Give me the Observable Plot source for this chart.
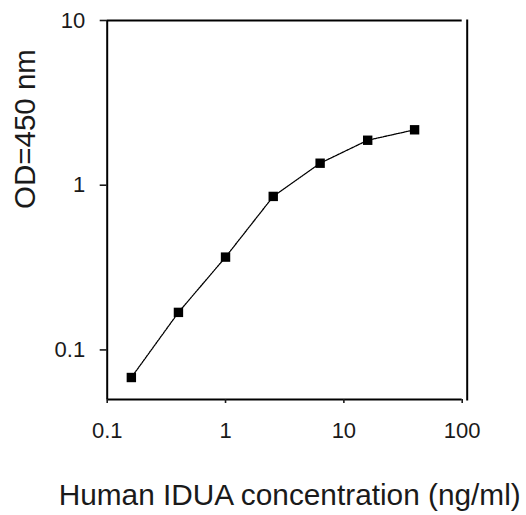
<!DOCTYPE html>
<html>
<head>
<meta charset="utf-8">
<script src="https://cdn.jsdelivr.net/npm/d3@7"></script>
<script src="https://cdn.jsdelivr.net/npm/@observablehq/plot@0.6"></script>
<style>
  html, body { margin: 0; padding: 0; background: #fff; }
  #chart { width: 526px; height: 515px; }
</style>
</head>
<body>
<div id="chart"></div>
<script>
// Data (x: concentration ng/ml, y: OD at 450 nm)
const concentration = [0.16, 0.40, 1.0, 2.53, 6.3, 15.9, 39.6];
const od450 = [0.068, 0.169, 0.366, 0.855, 1.36, 1.875, 2.17];

const xTicks = [0.1, 1, 10, 100];
const xTickLabels = ["0.1", "1", "10", "100"];
const yTicks = [0.1, 1, 10];
const yTickLabels = ["0.1", "1", "10"];
const xDomain = [0.1, 100];
const yDomain = [0.05, 10];
const xLabel = "Human IDUA concentration (ng/ml)";
const yLabel = "OD=450 nm";

const data = concentration.map((c, i) => ({x: c, y: od450[i]}));
const ink = "#1a1a1a";

const chart = Plot.plot({
  width: 526,
  height: 515,
  marginLeft: 106.7,
  marginRight: 59.3,
  marginTop: 20,
  marginBottom: 116,
  style: {fontFamily: "Arial, 'Liberation Sans', sans-serif", color: ink, background: "#fff"},
  x: {type: "log", domain: xDomain, range: [106.7, 461.7]},
  y: {type: "log", domain: yDomain},
  marks: [
    // frame-like lines
    Plot.ruleY([yDomain[0]], {x1: xDomain[0], x2: xDomain[1], stroke: "#000", strokeWidth: 2}),
    Plot.ruleY([yDomain[1]], {x1: xDomain[0], x2: xDomain[1], stroke: "#000", strokeWidth: 2}),
    Plot.ruleX([xDomain[0]], {y1: yDomain[0], y2: yDomain[1], stroke: "#000", strokeWidth: 2}),
    Plot.frame({anchor: "right", stroke: "#000", strokeWidth: 2}),
    Plot.axisX({
      ticks: xTicks,
      tickFormat: (d) => xTickLabels[xTicks.indexOf(d)],
      tickSize: 4,
      tickPadding: 19,
      fontSize: 22,
      strokeWidth: 1.6,
      label: null
    }),
    Plot.axisY({
      ticks: yTicks,
      tickFormat: (d) => yTickLabels[yTicks.indexOf(d)],
      tickSize: 7,
      tickPadding: 15,
      fontSize: 22,
      strokeWidth: 1.6,
      label: null
    }),
    Plot.line(data, {x: "x", y: "y", stroke: "#000", strokeWidth: 1.3, strokeDasharray: "1.6,1"}),
    Plot.dot(data, {x: "x", y: "y", symbol: "square", r: 5.3, fill: "#000", stroke: "none"}),
    Plot.text([xLabel], {text: d => d, frameAnchor: "bottom", lineAnchor: "bottom", dy: 105, dx: 2.5, fontSize: 29.8, fill: ink}),
    Plot.text([yLabel], {text: d => d, frameAnchor: "left", rotate: -90, dx: -81.5, dy: -1, fontSize: 29.5, fill: ink})
  ]
});
document.getElementById("chart").appendChild(chart);
</script>
</body>
</html>
